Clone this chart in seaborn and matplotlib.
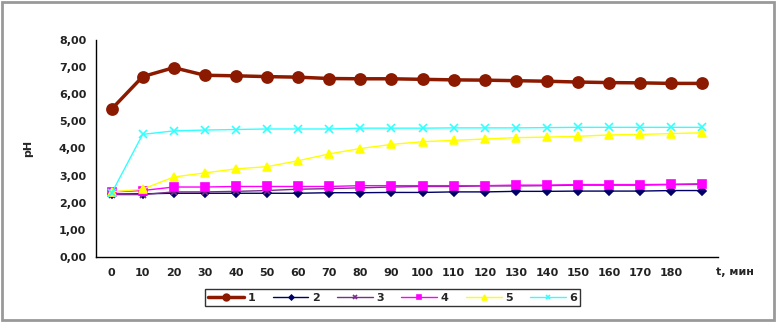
import matplotlib
matplotlib.use('Agg')
import matplotlib.pyplot as plt
import matplotlib.patches as mpatches
from matplotlib.ticker import FuncFormatter, FixedLocator
import seaborn as sns
import pandas as pd

# Время, мин (последняя категория без подписи)
t_labels = ['0', '10', '20', '30', '40', '50', '60', '70', '80', '90', '100',
            '110', '120', '130', '140', '150', '160', '170', '180', '']

ph_1 = [5.45, 6.65, 6.98, 6.70, 6.68, 6.65, 6.63, 6.58, 6.57, 6.57,
        6.55, 6.53, 6.52, 6.50, 6.48, 6.45, 6.43, 6.42, 6.40, 6.40]
ph_2 = [2.32, 2.33, 2.35, 2.35, 2.35, 2.35, 2.35, 2.37, 2.37, 2.38,
        2.38, 2.40, 2.40, 2.42, 2.42, 2.43, 2.43, 2.43, 2.45, 2.45]
ph_3 = [2.30, 2.30, 2.40, 2.40, 2.42, 2.45, 2.50, 2.52, 2.55, 2.58,
        2.60, 2.60, 2.62, 2.62, 2.63, 2.65, 2.65, 2.65, 2.67, 2.68]
ph_4 = [2.40, 2.45, 2.58, 2.58, 2.60, 2.60, 2.60, 2.60, 2.63, 2.63,
        2.63, 2.63, 2.63, 2.65, 2.65, 2.67, 2.67, 2.67, 2.68, 2.70]
ph_5 = [2.40, 2.50, 2.95, 3.10, 3.25, 3.33, 3.55, 3.80, 4.00, 4.15,
        4.25, 4.30, 4.35, 4.40, 4.42, 4.45, 4.50, 4.52, 4.55, 4.58]
ph_6 = [2.35, 4.52, 4.65, 4.68, 4.70, 4.72, 4.72, 4.72, 4.75, 4.75,
        4.75, 4.76, 4.76, 4.76, 4.77, 4.78, 4.78, 4.78, 4.78, 4.78]

series_names = ['1', '2', '3', '4', '5', '6']
series_values = [ph_1, ph_2, ph_3, ph_4, ph_5, ph_6]

styles = {
    '1': dict(color='#8B1A00', marker='o', markersize=8, lw=2.5),
    '2': dict(color='#000066', marker='D', markersize=4, lw=1),
    '3': dict(color='#7B2D8E', marker='x', markersize=5, lw=1),
    '4': dict(color='#FF00FF', marker='s', markersize=6, lw=1),
    '5': dict(color='#FFFF00', marker='^', markersize=6, lw=1),
    '6': dict(color='#33FFFF', marker='x', markersize=6, lw=1),
}

rows = []
for name, vals in zip(series_names, series_values):
    for i, v in enumerate(vals):
        rows.append({'pos': i, 'ph': v, 'series': name})
df = pd.DataFrame(rows)

sns.set_style('white')
plt.rcParams['font.family'] = ['DejaVu Sans']
plt.rcParams['font.weight'] = 'bold'

fig = plt.figure(figsize=(7.76, 3.22), dpi=100)
ax = fig.add_axes([96 / 776, 1 - 257 / 322, (718 - 96) / 776, (257 - 40) / 322])

for name in series_names:
    st = styles[name]
    sub = df[df['series'] == name]
    sns.lineplot(data=sub, x='pos', y='ph', ax=ax, color=st['color'], marker=st['marker'],
                 markersize=st['markersize'], linewidth=st['lw'], markeredgecolor=st['color'],
                 markeredgewidth=1.2, label=name)

ax.set_xlim(-0.5, len(t_labels) - 0.5)
ax.set_ylim(0, 8)
ax.set_yticks([0, 1, 2, 3, 4, 5, 6, 7, 8])
ax.yaxis.set_major_formatter(FuncFormatter(lambda v, p: f'{v:.2f}'.replace('.', ',')))

# категории: подписи по центру, штрихи между категориями
ax.set_xticks(range(len(t_labels)))
ax.set_xticklabels(t_labels)
ax.xaxis.set_minor_locator(FixedLocator([i - 0.5 for i in range(len(t_labels) + 1)]))
ax.tick_params(axis='x', which='major', length=0, pad=8, labelsize=8, labelcolor='#222222')
ax.tick_params(axis='x', which='minor', length=4, width=1, color='black', direction='out')
ax.tick_params(axis='y', length=4, width=1, color='black', direction='out', labelsize=8, pad=3,
               labelcolor='#222222')

for s in ['top', 'right']:
    ax.spines[s].set_visible(False)
for s in ['left', 'bottom']:
    ax.spines[s].set_color('black')
    ax.spines[s].set_linewidth(1)

ax.set_xlabel('')
ax.set_ylabel('pH', fontsize=8, fontweight='bold')
ax.yaxis.set_label_coords((33 - 96) / 622, 0.5)
fig.text(735 / 776, 1 - 272 / 322, 't, мин', fontsize=8, fontweight='bold', ha='center', va='center')

leg = ax.legend(loc='center', bbox_to_anchor=(0.477, -0.187), ncol=6, frameon=True, fancybox=False,
                fontsize=8, handlelength=3.2, columnspacing=1.6, borderpad=0.3, handletextpad=0.3,
                markerscale=0.6)
leg.get_frame().set_edgecolor('black')
leg.get_frame().set_linewidth(1)

fig.patches.append(mpatches.Rectangle((0.003, 0.006), 0.994, 0.988, transform=fig.transFigure,
                                      fill=False, edgecolor='#999999', linewidth=2))

fig.savefig('out.png', dpi=100)
